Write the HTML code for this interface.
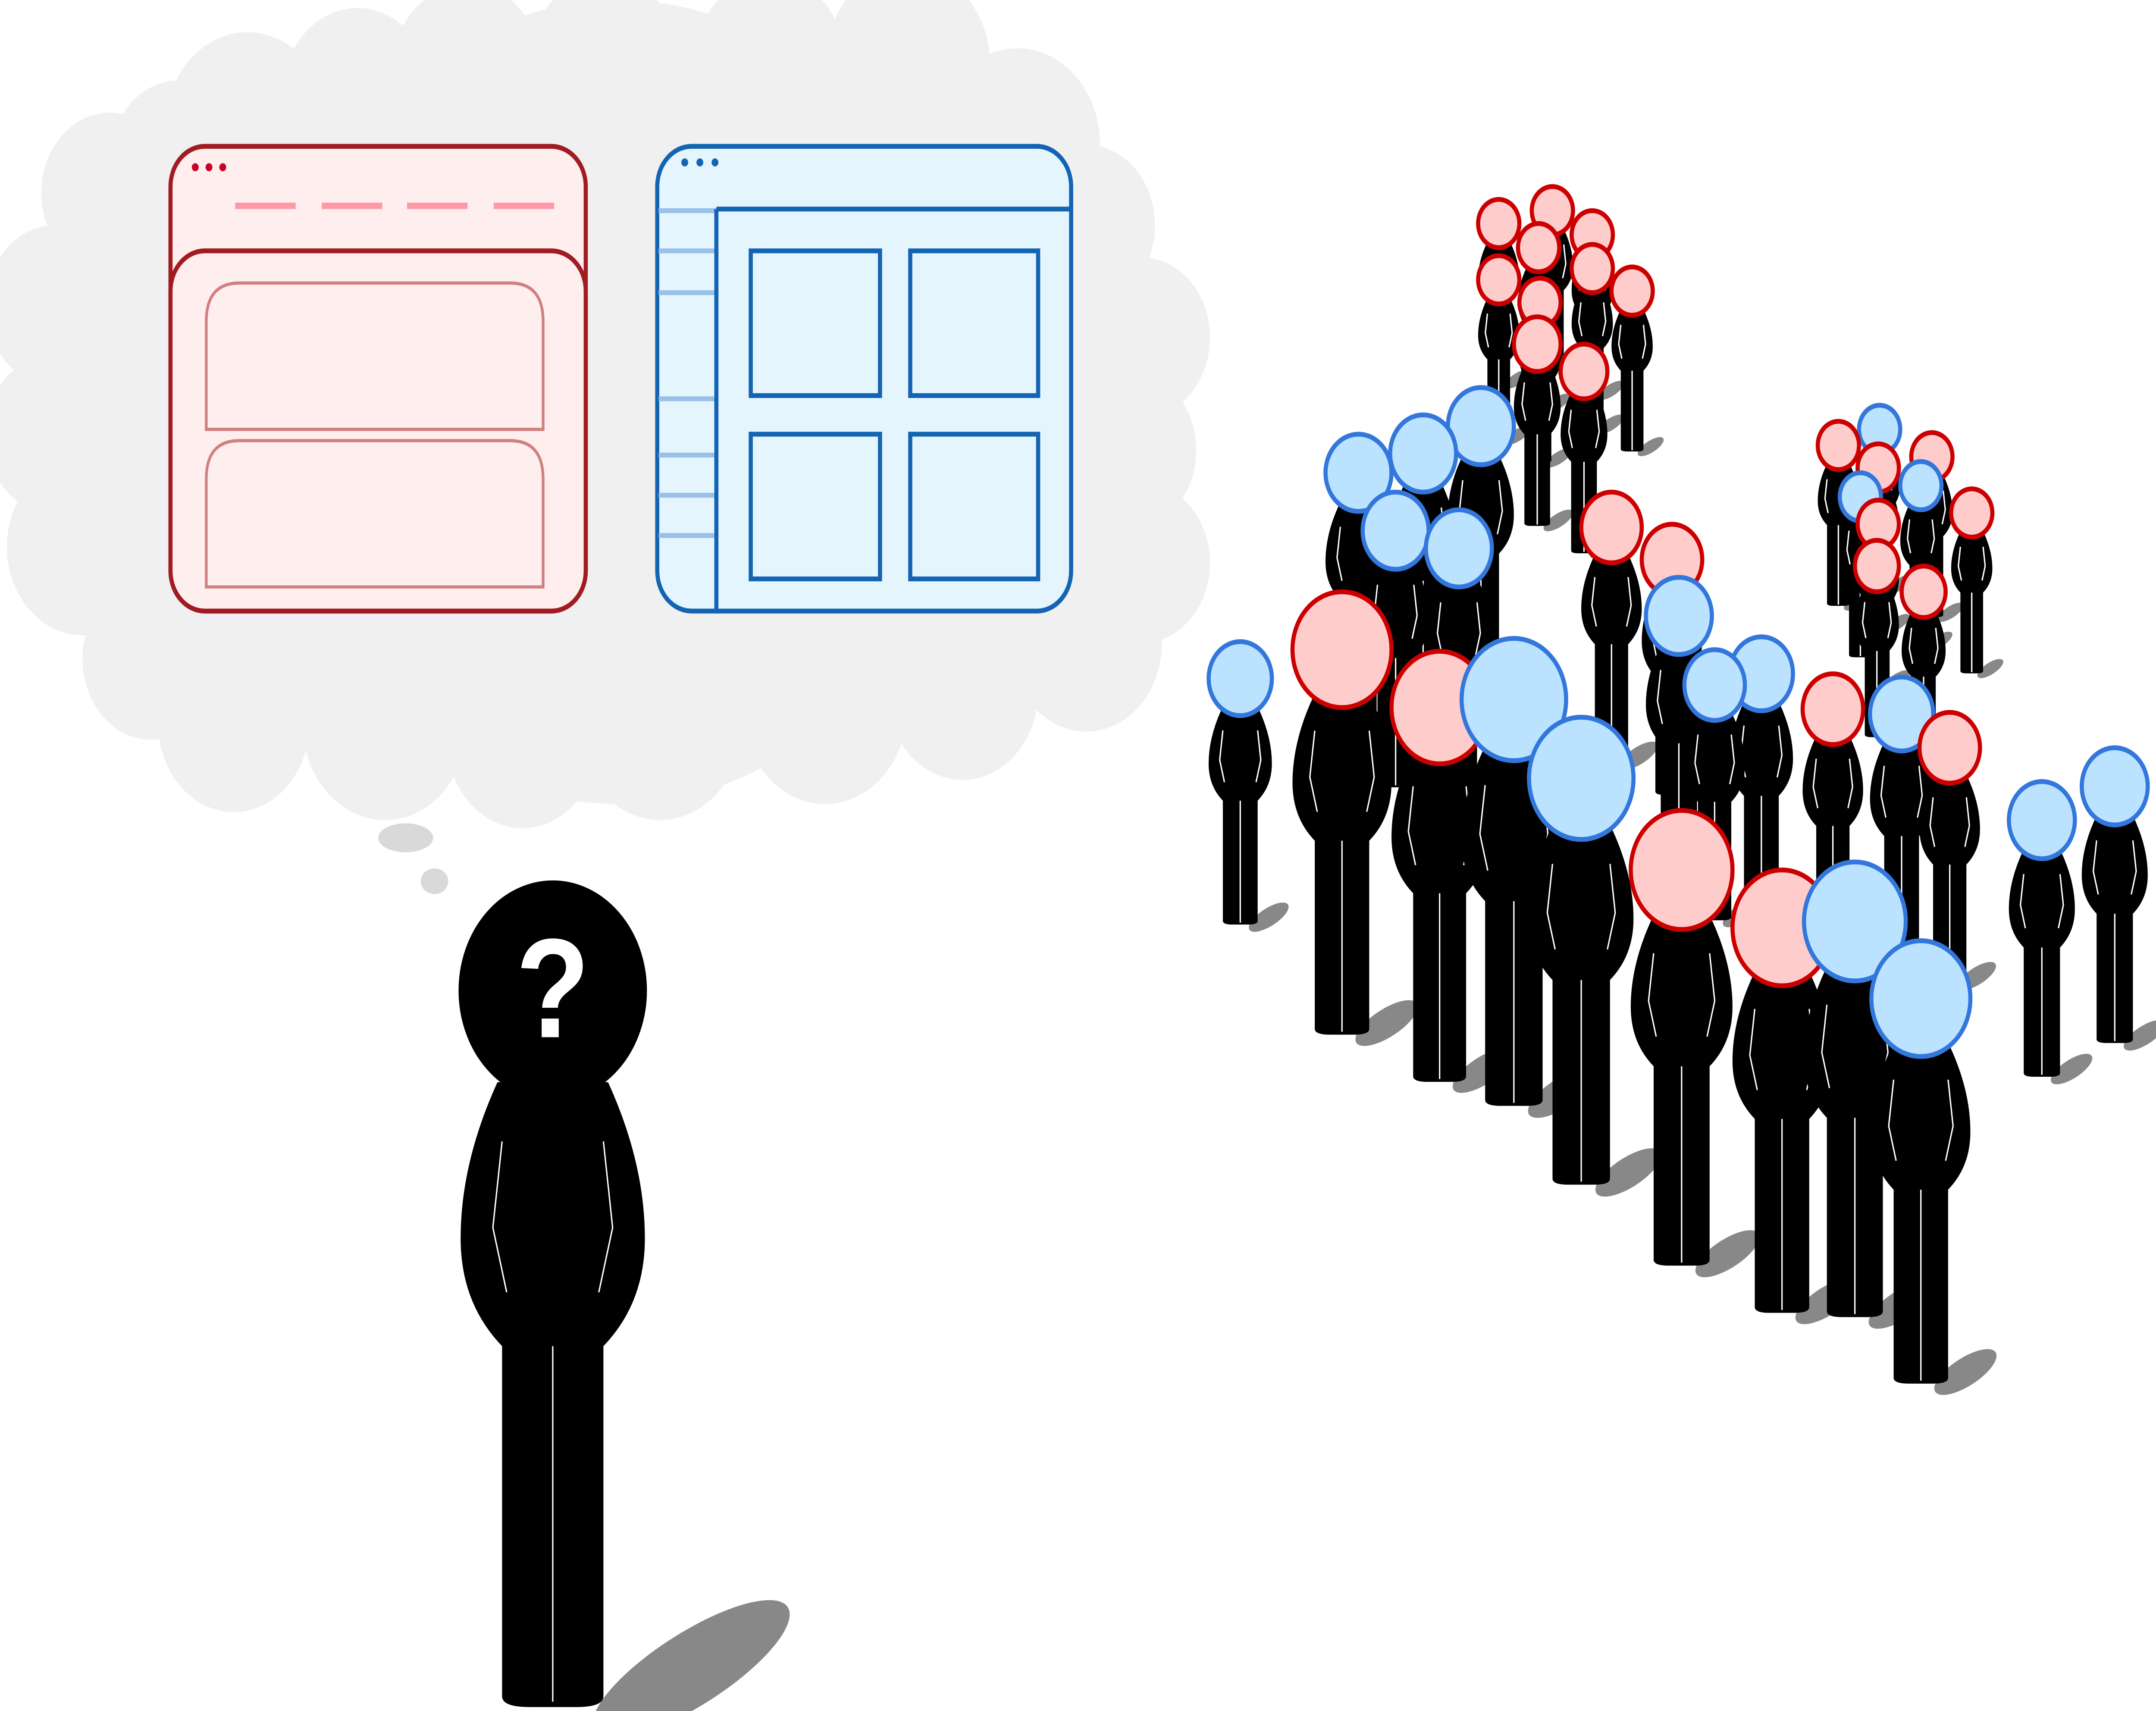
<!DOCTYPE html>
<html><head><meta charset="utf-8"><style>
html,body{margin:0;padding:0;background:#fff;width:100%;height:100%;overflow:hidden;}
svg{display:block;position:fixed;left:0;top:0;width:100vw;height:100vh;}
</style></head><body>
<svg id="art" viewBox="0 0 1568 1064" preserveAspectRatio="none" xmlns="http://www.w3.org/2000/svg" overflow="hidden">
<defs><clipPath id="frame"><rect x="0" y="0" width="1568" height="1064"/></clipPath></defs>
<g clip-path="url(#frame)">
<g id="cloud" fill="#f0f0f0"></g>
<ellipse cx="295" cy="521" rx="20" ry="9" fill="#d9d9d9"/>
<ellipse cx="316" cy="548" rx="10" ry="8" fill="#d9d9d9"/>
<g>
<rect x="124" y="91" width="302" height="289" rx="25" fill="#ffeeee" stroke="#a01c22" stroke-width="3"/>
<circle cx="142" cy="104" r="2.5" fill="#cc0022"/><circle cx="152" cy="104" r="2.5" fill="#cc0022"/><circle cx="162" cy="104" r="2.5" fill="#cc0022"/>
<g stroke="#ff99a8" stroke-width="4"><line x1="171" y1="128" x2="215" y2="128"/><line x1="234" y1="128" x2="278" y2="128"/><line x1="296" y1="128" x2="340" y2="128"/><line x1="359" y1="128" x2="403" y2="128"/></g>
<rect x="124" y="156" width="302" height="224" rx="25" fill="#ffeeee" stroke="#a01c22" stroke-width="3"/>
<path d="M150 267 V200 Q150 176 174 176 H371 Q395 176 395 200 V267 Z" fill="#ffeeee" stroke="#d08080" stroke-width="2"/>
<path d="M150 365 V298 Q150 274 174 274 H371 Q395 274 395 298 V365 Z" fill="#ffeeee" stroke="#d08080" stroke-width="2"/>
</g>
<g>
<rect x="478" y="91" width="301" height="289" rx="25" fill="#e4f5fd" stroke="#1464b4" stroke-width="3"/>
<circle cx="498" cy="101" r="2.5" fill="#1464b4"/><circle cx="509" cy="101" r="2.5" fill="#1464b4"/><circle cx="520" cy="101" r="2.5" fill="#1464b4"/>
<g stroke="#99c0e8" stroke-width="3"><line x1="479" y1="131" x2="521" y2="131"/><line x1="479" y1="156" x2="521" y2="156"/><line x1="479" y1="182" x2="521" y2="182"/><line x1="479" y1="248" x2="521" y2="248"/><line x1="479" y1="283" x2="521" y2="283"/><line x1="479" y1="308" x2="521" y2="308"/><line x1="479" y1="333" x2="521" y2="333"/></g>
<line x1="521" y1="130" x2="521" y2="380" stroke="#1464b4" stroke-width="3"/>
<line x1="521" y1="130" x2="779" y2="130" stroke="#1464b4" stroke-width="3"/>
<g fill="none" stroke="#1464b4" stroke-width="3">
<rect x="546" y="156" width="94" height="90"/><rect x="662" y="156" width="93" height="90"/>
<rect x="546" y="270" width="94" height="90"/><rect x="662" y="270" width="93" height="90"/></g>
</g>
<g id="crowd"></g>
<g id="main"></g>
</g>
</svg>
<script>
var NS="http://www.w3.org/2000/svg";
var cloudCircles=[[180,80,60],[260,60,55],[340,45,55],[440,40,55],[560,40,55],[660,40,60],[740,90,60],[790,140,50],[830,210,50],[820,280,50],[830,350,50],[790,400,55],[700,430,55],[600,440,60],[480,450,60],[380,460,55],[280,450,60],[170,450,55],[110,410,50],[60,340,55],[40,270,50],[40,190,50],[80,120,50],[130,100,50],[450,250,250],[250,250,200],[650,250,200]];
var cloud=document.getElementById('cloud');
cloudCircles.forEach(function(c){var e=document.createElementNS(NS,'circle');e.setAttribute('cx',c[0]);e.setAttribute('cy',c[1]);e.setAttribute('r',c[2]);


cloud.appendChild(e);});
function figure(parent,x,y,r,col,big){
  var g=document.createElementNS(NS,'g');
  
  
  g.setAttribute('transform','translate('+x+','+y+') scale('+r+')');
  var sw=1/r;
  var sh=big?'<ellipse cx="1.5" cy="6.3" rx="1.2" ry="0.35" transform="rotate(-28 1.5 6.3)" fill="#888"/>'
             :'<ellipse cx="0.9" cy="6.45" rx="0.7" ry="0.25" transform="rotate(-28 0.9 6.45)" fill="#888"/>';
  var h=sh+
  '<path d="M-0.55 3 V6.55 Q-0.55 6.65 -0.25 6.65 H0.25 Q0.55 6.65 0.55 6.55 V3 Z" fill="#000"/>'+
  '<line x1="0" y1="3.2" x2="0" y2="6.6" stroke="#fff" stroke-width="'+sw+'"/>'+
  '<path d="M-0.6 0.85 Q-1.0 1.6 -1.0 2.3 Q-1.0 2.9 -0.55 3.3 H0.55 Q1.0 2.9 1.0 2.3 Q1.0 1.6 0.6 0.85 Z" fill="#000"/>'+
  '<path d="M-0.55 1.4 L-0.65 2.2 L-0.5 2.8 M0.55 1.4 L0.65 2.2 L0.5 2.8" fill="none" stroke="#fff" stroke-width="'+sw+'"/>';
  var fill=col=='r'?'#ffcccc':(col=='b'?'#bbe3ff':'#000');
  var st=col=='r'?'#cc0000':(col=='b'?'#3377dd':'#000');
  h+='<circle cx="0" cy="0" r="1" fill="'+fill+'" stroke="'+st+'" stroke-width="'+(3/r)+'"/>';
  g.innerHTML=h;
  parent.appendChild(g);
}
var crowdX=[1090,1129,1158,1119,1090,1158,1187,1120,1118,1152,1337,1367,1405,1366,1353,1397,1434,1366,1365,1399,988,1035,1077,1015,1061,902,976,1172,1216,1221,1047,1101,1247,1281,1333,1383,1418,1150,1223,1296,1349,1397,1485,1538];
var crowdY=[139,131,146,154,174,167,181,188,214,231,277,267,284,291,309,302,319,326,352,368,294,282,265,330,341,422,404,328,348,383,440,435,426,419,441,444,465,484,541,577,573,621,510,489];
var crowdR=[15,15,15,15,15,15,15,15,17,17,15,15,15,15,15,15,15,15,16,16,24,24,24,24,24,23,36,22,22,24,35,38,22,23,22,23,22,38,37,36,37,36,24,24];
var crowdC=['r','r','r','r','r','r','r','r','r','r','r','b','r','r','b','b','r','r','r','r','b','b','b','b','b','b','r','r','r','b','r','b','b','b','r','b','r','b','r','r','b','b','b','b'];
var idx=crowdX.map(function(_,i){return i;});
idx.sort(function(a,b){return (crowdY[a]+6.6*crowdR[a])-(crowdY[b]+6.6*crowdR[b]);});
var crowd=document.getElementById('crowd');
idx.forEach(function(i){figure(crowd,crowdX[i],crowdY[i],crowdR[i],crowdC[i],false);});
var main=document.getElementById('main');
figure(main,402,616,67,'k',true);
var q=document.createElementNS(NS,'text');


q.setAttribute('x','402');q.setAttribute('y','645');q.setAttribute('text-anchor','middle');
q.setAttribute('font-family','Liberation Sans, sans-serif');q.setAttribute('font-weight','bold');q.setAttribute('font-size','88');q.setAttribute('fill','#fff');
q.textContent='?';
main.appendChild(q);
</script>
</body></html>
